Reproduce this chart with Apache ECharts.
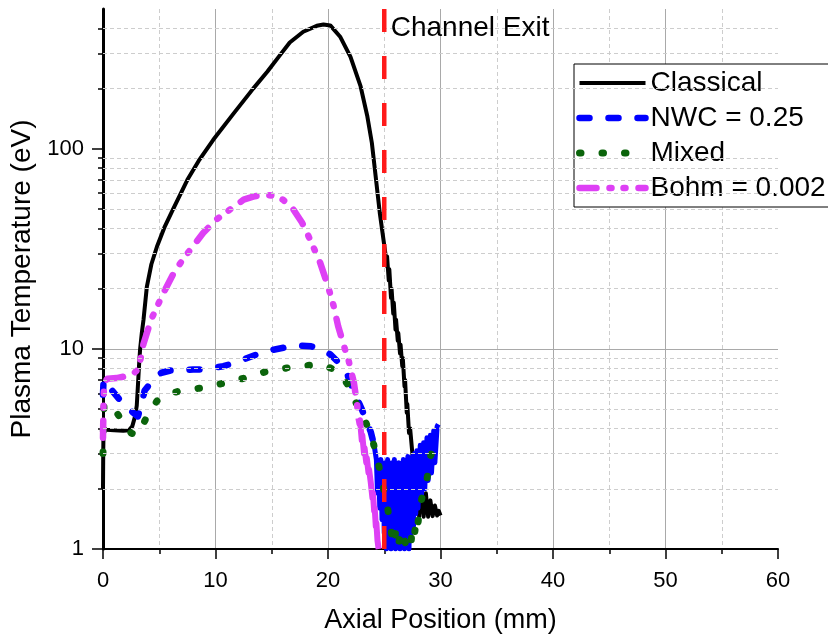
<!DOCTYPE html>
<html>
<head>
<meta charset="utf-8">
<script src="https://cdn.jsdelivr.net/npm/echarts@6/dist/echarts.min.js"></script>
<style>
  html, body { margin: 0; padding: 0; background: #fff; }
  #chart { width: 828px; height: 639px; }
</style>
</head>
<body>
<div id="chart"></div>
<script>
// Axial position (mm) vs plasma electron temperature (eV), four anomalous-transport models.

const xTicks = [0, 10, 20, 30, 40, 50, 60];
const yMin = 1;
const yMax = 500;
const yMajorValues = [1, 10, 100];
const yMinorValues = [2, 3, 4, 5, 6, 7, 8, 9, 20, 30, 40, 50, 60, 70, 80, 90, 200, 300, 400];
const channelExit = 25;

const seriesNames = ['Classical', 'NWC = 0.25', 'Mixed', 'Bohm = 0.002'];

// Classical transport
const classical = [
  [0, 2.0], [0.02, 3.0], [0.05, 4.0], [0.3, 3.95], [1.0, 3.92], [1.8, 3.9], [2.3, 3.92],
  [2.6, 4.1], [2.85, 4.6], [3.0, 5.2], [3.1, 6.5], [3.2, 8.2], [3.3, 10], [3.45, 12],
  [3.6, 14], [3.9, 20.5], [4.3, 26.5], [4.8, 32.5], [5.5, 41], [6.2, 49.5], [7.5, 70], [8.5, 87],
  [9.8, 111], [11.6, 150], [13.35, 200], [14.6, 243], [15.75, 295], [16.6, 340], [17.8, 385],
  [19.0, 412], [19.6, 418], [20.2, 414], [21.1, 362], [22.0, 288], [22.9, 205], [23.5, 145],
  [23.9, 107], [24.2, 76], [24.6, 48], [25.1, 30], [25.2, 26], [25.25, 29], [25.4, 22],
  [25.45, 25], [25.6, 18], [25.65, 20], [25.8, 15], [25.85, 17], [26.0, 12.5], [26.05, 14],
  [26.2, 11], [26.25, 12], [26.4, 9.5], [26.45, 10.5], [26.6, 8.2], [26.65, 9], [26.8, 6.5],
  [26.85, 7], [27.0, 4.8], [27.05, 5.3], [27.2, 3.8], [27.3, 4.0], [27.5, 3.0], [27.6, 2.6],
  [27.7, 2.1], [27.8, 2.4], [27.9, 1.6], [28.0, 2.2], [28.1, 1.45], [28.3, 2.05], [28.5, 1.45],
  [28.7, 1.9], [28.9, 1.45], [29.1, 1.75], [29.3, 1.46], [29.5, 1.65], [29.7, 1.47],
  [29.85, 1.55], [30.0, 1.47]
];

// Near-wall conductivity coefficient 0.25
const nwc = [
  [0, 5.9], [0.05, 7.0], [0.6, 6.4], [1.8, 5.3], [2.5, 4.9], [3.1, 4.6], [3.4, 5.2],
  [3.7, 6.2], [4.0, 6.5], [4.6, 7.2], [5.2, 7.6], [6.0, 7.8], [6.9, 7.8], [8.0, 7.9],
  [8.9, 7.9], [10.7, 8.2], [11.9, 8.6], [13.7, 9.4], [14.7, 9.8], [16.3, 10.2], [17.5, 10.4],
  [18.5, 10.3], [19.3, 10.0], [20.2, 9.4], [20.8, 8.7], [21.7, 7.5], [22.2, 6.3], [23.0, 5.0],
  [23.8, 3.85], [24.1, 3.3]
];
const nwcPlume = [
  [24.1, 3.3], [24.3, 2.8], [24.4, 1.9], [24.5, 2.7], [24.6, 1.6], [24.7, 2.8], [24.8, 1.4],
  [24.9, 2.6], [25.0, 1.2], [25.1, 2.7], [25.2, 1.0], [25.3, 2.8], [25.4, 1.1], [25.5, 2.6],
  [25.6, 1.0], [25.7, 2.7], [25.8, 1.3], [25.9, 2.8], [26.0, 1.0], [26.1, 2.5], [26.2, 1.1],
  [26.3, 2.7], [26.4, 1.0], [26.5, 2.6], [26.6, 1.2], [26.7, 2.8], [26.8, 1.0], [26.9, 2.5],
  [27.0, 1.1], [27.1, 2.9], [27.2, 1.0], [27.3, 2.7], [27.4, 1.2], [27.5, 2.9], [27.6, 1.3],
  [27.7, 3.0], [27.8, 1.5], [27.9, 3.1], [28.0, 1.6], [28.2, 3.3], [28.3, 1.8], [28.5, 3.4],
  [28.6, 2.0], [28.8, 3.6], [28.9, 2.2], [29.1, 3.7], [29.2, 2.4], [29.4, 3.9], [29.5, 2.7],
  [29.7, 4.1], [29.8, 4.2]
];

// Mixed model
const mixed = [
  [0, 3.0], [0.05, 4.6], [0.1, 5.3], [0.9, 5.1], [1.8, 4.3], [2.5, 3.8], [3.0, 3.7],
  [3.4, 4.0], [3.9, 4.6], [4.8, 5.5], [5.8, 5.95], [7.0, 6.2], [8.9, 6.4], [11.3, 6.85],
  [12.8, 7.2], [14.3, 7.65], [16.7, 8.1], [18.5, 8.3], [19.6, 8.3], [20.5, 7.9], [21.2, 7.3],
  [21.7, 6.7], [22.2, 5.8], [23.1, 4.6], [23.8, 3.8], [24.4, 2.8], [24.8, 2.2], [25.3, 1.6],
  [25.8, 1.05], [26.0, 1.2], [26.2, 1.02], [26.4, 1.15], [26.6, 1.02], [26.8, 1.1],
  [27.0, 1.02], [27.2, 1.15], [27.4, 1.1], [27.5, 1.3], [27.7, 1.2], [27.9, 1.45], [28.0, 1.35],
  [28.2, 1.65], [28.4, 1.85], [28.6, 2.0], [28.8, 2.25], [29.0, 2.6], [29.1, 2.9], [29.3, 3.1],
  [29.5, 3.4], [29.8, 3.55]
];

// Bohm coefficient 0.002
const bohm = [
  [0, 3.6], [0.05, 5.5], [0.1, 6.8], [0.4, 7.1], [1.2, 7.15], [2.0, 7.3], [2.7, 7.5],
  [3.0, 7.8], [3.3, 8.7], [3.6, 10.6], [4.0, 12.5], [4.3, 14.1], [5.4, 19.2], [6.3, 24],
  [7.1, 28], [8.0, 32.6], [8.9, 38], [10.1, 44.4], [11.3, 49.8], [12.5, 55.7], [13.5, 58],
  [14.5, 59], [15.3, 58], [16.0, 55.7], [16.9, 50], [17.7, 42.7], [18.4, 35.3], [19.3, 27],
  [20.0, 20.6], [20.5, 16.4], [20.9, 13], [21.5, 10], [21.8, 8.9], [22.3, 6.8], [22.6, 5.2],
  [22.7, 4.5]
];
const bohmPlume = [
  [22.7, 4.5], [22.8, 4.2], [22.85, 4.4], [23.0, 3.5], [23.05, 3.7], [23.2, 3.0], [23.25, 3.2],
  [23.4, 2.7], [23.45, 2.85], [23.6, 2.4], [23.65, 2.5], [23.8, 2.15], [23.85, 2.2],
  [23.95, 1.8], [24.0, 1.9], [24.1, 1.55], [24.15, 1.6], [24.25, 1.3], [24.3, 1.35],
  [24.4, 1.1], [24.5, 1.0]
];

const FONT = 'Liberation Sans, Arial, sans-serif';
const BLACK = '#000000';
const BLUE = '#0000ff';
const GREEN = '#0b640b';
const MAGENTA = '#de40f5';
const RED = '#ff1a1a';

const chart = echarts.init(document.getElementById('chart'), null, { renderer: 'canvas' });

const dashedBlue = { color: BLUE, width: 6.5, type: [10, 19], cap: 'round', join: 'round' };
const dottedGreen = { color: GREEN, width: 7, type: [1.5, 21], cap: 'round', join: 'round' };
const dashDotMagenta = { color: MAGENTA, width: 6.5, type: [17, 13, 2, 12, 2, 13], cap: 'round', join: 'round' };

const option = {
  animation: false,
  backgroundColor: '#ffffff',
  grid: { left: 103, right: 50, top: 9, bottom: 88, containLabel: false },
  legend: {
    data: seriesNames,
    orient: 'vertical',
    left: 574,
    top: 64,
    padding: [5, 8, 5, 2],
    itemGap: 7,
    itemWidth: 66,
    itemHeight: 10,
    borderColor: '#000',
    borderWidth: 1,
    backgroundColor: '#fff',
    itemStyle: { color: 'rgba(0,0,0,0)', borderWidth: 0 },
    lineStyle: { width: 'inherit' },
    textStyle: { fontFamily: FONT, fontSize: 28, lineHeight: 26, color: '#000' },
    selectedMode: false
  },
  xAxis: {
    type: 'value',
    min: xTicks[0],
    max: xTicks[xTicks.length - 1],
    interval: 10,
    name: 'Axial Position (mm)',
    nameLocation: 'middle',
    nameGap: 58,
    nameTextStyle: { fontFamily: FONT, fontSize: 27, color: '#000' },
    axisLine: { show: true, onZero: false, lineStyle: { color: BLACK, width: 2 } },
    axisTick: { show: true, inside: false, length: 10, lineStyle: { color: BLACK, width: 1.5 } },
    minorTick: { show: true, splitNumber: 2, length: 5, lineStyle: { color: BLACK, width: 1.5 } },
    axisLabel: { fontFamily: FONT, fontSize: 22, color: '#000', margin: 21 },
    splitLine: { show: true, showMinLine: false, showMaxLine: false, lineStyle: { color: '#a9a9a9', width: 1 } },
    minorSplitLine: { show: true, lineStyle: { color: '#cdcdcd', width: 1, type: [4, 3] } }
  },
  yAxis: [
    {
      type: 'log',
      logBase: 10,
      min: yMin,
      max: yMax,
      name: 'Plasma Temperature (eV)',
      nameLocation: 'middle',
      nameGap: 64,
      nameTextStyle: { fontFamily: FONT, fontSize: 28, color: '#000' },
      axisLine: { show: true, onZero: false, lineStyle: { color: BLACK, width: 3 } },
      axisTick: { show: true, inside: false, length: 11, customValues: yMajorValues, lineStyle: { color: BLACK, width: 1.5 } },
      axisLabel: { fontFamily: FONT, fontSize: 22, color: '#000', margin: 19, align: 'right', customValues: yMajorValues },
      splitLine: { show: true, showMinLine: false, showMaxLine: false, lineStyle: { color: '#a9a9a9', width: 1 } }
    },
    {
      type: 'log',
      logBase: 10,
      min: yMin,
      max: yMax,
      position: 'left',
      axisLine: { show: false },
      axisLabel: { show: false },
      splitLine: { show: false },
      axisTick: { show: true, inside: false, length: 5, customValues: yMinorValues, lineStyle: { color: BLACK, width: 1.5 } }
    }
  ],
  series: [
    {
      // minor horizontal grid lines
      type: 'line',
      data: [],
      silent: true,
      z: 1,
      markLine: {
        silent: true,
        symbol: 'none',
        label: { show: false },
        lineStyle: { color: '#cdcdcd', width: 1, type: [4, 3] },
        data: yMinorValues.map(v => ({ yAxis: v }))
      }
    },
    {
      name: seriesNames[0], type: 'line', data: classical, showSymbol: false, symbol: 'none',
      lineStyle: { color: BLACK, width: 4, join: 'round' }, itemStyle: { color: BLACK }, z: 3
    },
    {
      name: seriesNames[1], type: 'line', data: nwc, showSymbol: false, symbol: 'none',
      lineStyle: dashedBlue, itemStyle: { color: BLUE }, z: 3
    },
    {
      name: seriesNames[1], type: 'line', data: nwcPlume, showSymbol: false, symbol: 'none',
      lineStyle: { color: BLUE, width: 5, join: 'round' }, itemStyle: { color: BLUE }, z: 3
    },
    {
      name: seriesNames[2], type: 'line', data: mixed, showSymbol: false, symbol: 'none',
      lineStyle: dottedGreen, itemStyle: { color: GREEN }, z: 3
    },
    {
      name: seriesNames[3], type: 'line', data: bohm, showSymbol: false, symbol: 'none',
      lineStyle: dashDotMagenta, itemStyle: { color: MAGENTA }, z: 3
    },
    {
      name: seriesNames[3], type: 'line', data: bohmPlume, showSymbol: false, symbol: 'none',
      lineStyle: { color: MAGENTA, width: 6, join: 'round' }, itemStyle: { color: MAGENTA }, z: 3
    },
    {
      name: 'exit', type: 'line', data: [[channelExit, yMax], [channelExit, yMin]],
      showSymbol: false, symbol: 'none', z: 5,
      lineStyle: { color: RED, width: 4.5, type: [23, 24] },
      markPoint: {
        silent: true,
        symbol: 'circle',
        symbolSize: 1,
        itemStyle: { color: 'rgba(0,0,0,0)' },
        label: {
          show: true, position: 'right', distance: 6, formatter: 'Channel Exit',
          fontFamily: FONT, fontSize: 28, color: '#000'
        },
        data: [{ coord: [channelExit, 400] }]
      }
    }
  ]
};

chart.setOption(option);
</script>
</body>
</html>
